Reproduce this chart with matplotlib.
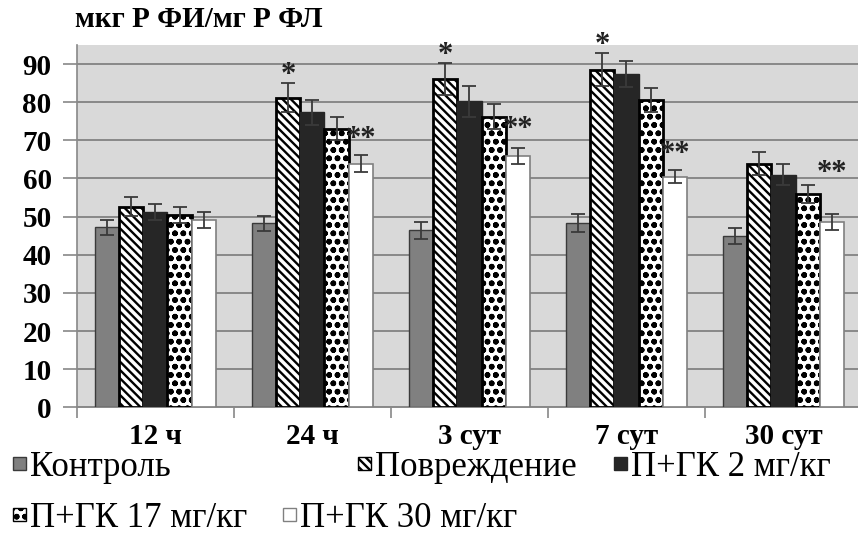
import matplotlib

matplotlib.use("Agg")
import matplotlib.pyplot as plt
import numpy as np
from matplotlib.patches import Rectangle

plt.rcParams["font.family"] = ["Liberation Serif", "DejaVu Serif"]

categories = ["12 ч", "24 ч", "3 сут", "7 сут", "30 сут"]
series_names = ["Контроль", "Повреждение", "П+ГК 2 мг/кг", "П+ГК 17 мг/кг", "П+ГК 30 мг/кг"]

control = [47.2, 48.2, 46.4, 48.3, 44.9]
injury = [52.6, 81.2, 86.0, 88.5, 63.9]
pgk_2 = [51.2, 77.3, 80.2, 87.4, 61.0]
pgk_17 = [50.4, 73.1, 76.2, 80.5, 55.9]
pgk_30 = [49.1, 63.9, 65.9, 60.5, 48.6]

control_err = [1.9, 2.0, 2.3, 2.3, 2.0]
injury_err = [2.5, 3.8, 4.2, 4.3, 3.1]
pgk_2_err = [2.2, 3.4, 4.0, 3.3, 2.8]
pgk_17_err = [2.1, 3.1, 3.3, 3.2, 2.3]
pgk_30_err = [2.0, 2.3, 2.2, 1.7, 2.0]

# significance marks: "*" on injury bars, "**" on 30 mg/kg bars
injury_marks = ["", "*", "*", "*", ""]
pgk_30_marks = ["", "**", "**", "**", "**"]
pgk_30_mark_y = [None, 66.5, 69.0, 62.5, 57.5]

values = [control, injury, pgk_2, pgk_17, pgk_30]
errors = [control_err, injury_err, pgk_2_err, pgk_17_err, pgk_30_err]
styles = [
    dict(facecolor="#808080", edgecolor="#3a3a3a", linewidth=1.0, hatch=None),
    dict(facecolor="white", edgecolor="black", linewidth=2.0, hatch="\\\\\\\\"),
    dict(facecolor="#262626", edgecolor="#262626", linewidth=1.0, hatch=None),
    dict(facecolor="white", edgecolor="black", linewidth=2.0, hatch="oo"),
    dict(facecolor="white", edgecolor="#808080", linewidth=1.2, hatch=None),
]
hatch_widths = [1.0, 1.7, 1.0, 1.7, 1.0]

fig = plt.figure(figsize=(8.58, 5.40), dpi=100)
ax = fig.add_axes([0.0894, 0.2457, 0.9153, 0.671])
ax.set_facecolor("#d9d9d9")

x = np.arange(len(categories))
width = 0.1545
for i, (vals, errs, st) in enumerate(zip(values, errors, styles)):
    pos = x + (i - 2) * width
    with plt.rc_context({"hatch.linewidth": hatch_widths[i]}):
        ax.bar(pos, vals, width, zorder=3, **st)
    ax.errorbar(pos, vals, yerr=errs, fmt="none", ecolor="#3a3a3a",
                elinewidth=1.3, capsize=5, capthick=1.3, zorder=4)

star_font = dict(fontsize=22, fontweight="bold", ha="center", va="bottom",
                 color="#222222", clip_on=False)
for j in range(len(categories)):
    if injury_marks[j]:
        ax.text(x[j] - width, injury[j] + injury_err[j] - 1.8, injury_marks[j], **star_font)
    if pgk_30_marks[j]:
        ax.text(x[j] + 2 * width, pgk_30_mark_y[j], pgk_30_marks[j], **star_font)

ax.set_ylim(0, 95)
ax.set_xlim(-0.5, 4.5)
ax.set_yticks(range(0, 91, 10))
ax.yaxis.grid(True, color="#888888", linewidth=1.4, zorder=0)
ax.set_axisbelow(True)

ax.set_xticks(np.arange(-0.5, 4.6, 1.0))
ax.set_xticklabels([])
ax.set_xticks(x, minor=True)
ax.set_xticklabels(categories, minor=True)
ax.tick_params(axis="x", which="major", length=8, color="#888888", width=1.2)
ax.tick_params(axis="x", which="minor", length=0, pad=11, labelsize=21)
ax.tick_params(axis="y", length=10, color="#888888", width=1.2, labelsize=21, pad=8)
for lab in ax.get_xticklabels(minor=True) + ax.get_yticklabels():
    lab.set_fontweight("bold")

for side in ["top", "right"]:
    ax.spines[side].set_visible(False)
ax.spines["left"].set_color("#888888")
ax.spines["bottom"].set_color("#888888")
ax.spines["left"].set_linewidth(1.2)
ax.spines["bottom"].set_linewidth(1.4)

fig.text(75 / 858, 1 - 27 / 540, "мкг Р ФИ/мг Р ФЛ", fontsize=21,
         fontweight="bold", ha="left", va="baseline")

# legend laid out in two flowing rows
legend_slots = [(13, 476), (358, 476), (614, 476), (13, 527), (283, 527)]
W, H = 858.0, 540.0
for i, ((px, py), name, st) in enumerate(zip(legend_slots, series_names, styles)):
    with plt.rc_context({"hatch.linewidth": hatch_widths[i]}):
        sq = Rectangle((px / W, (H - py + 6) / H), 13 / W, 13 / H,
                       transform=fig.transFigure, facecolor=st["facecolor"],
                       edgecolor=st["edgecolor"], linewidth=1.0,
                       hatch=st["hatch"])
    fig.add_artist(sq)
    fig.text((px + 17) / W, (H - py) / H, name, fontsize=25,
             ha="left", va="baseline")

fig.savefig("out.png", dpi=100)
